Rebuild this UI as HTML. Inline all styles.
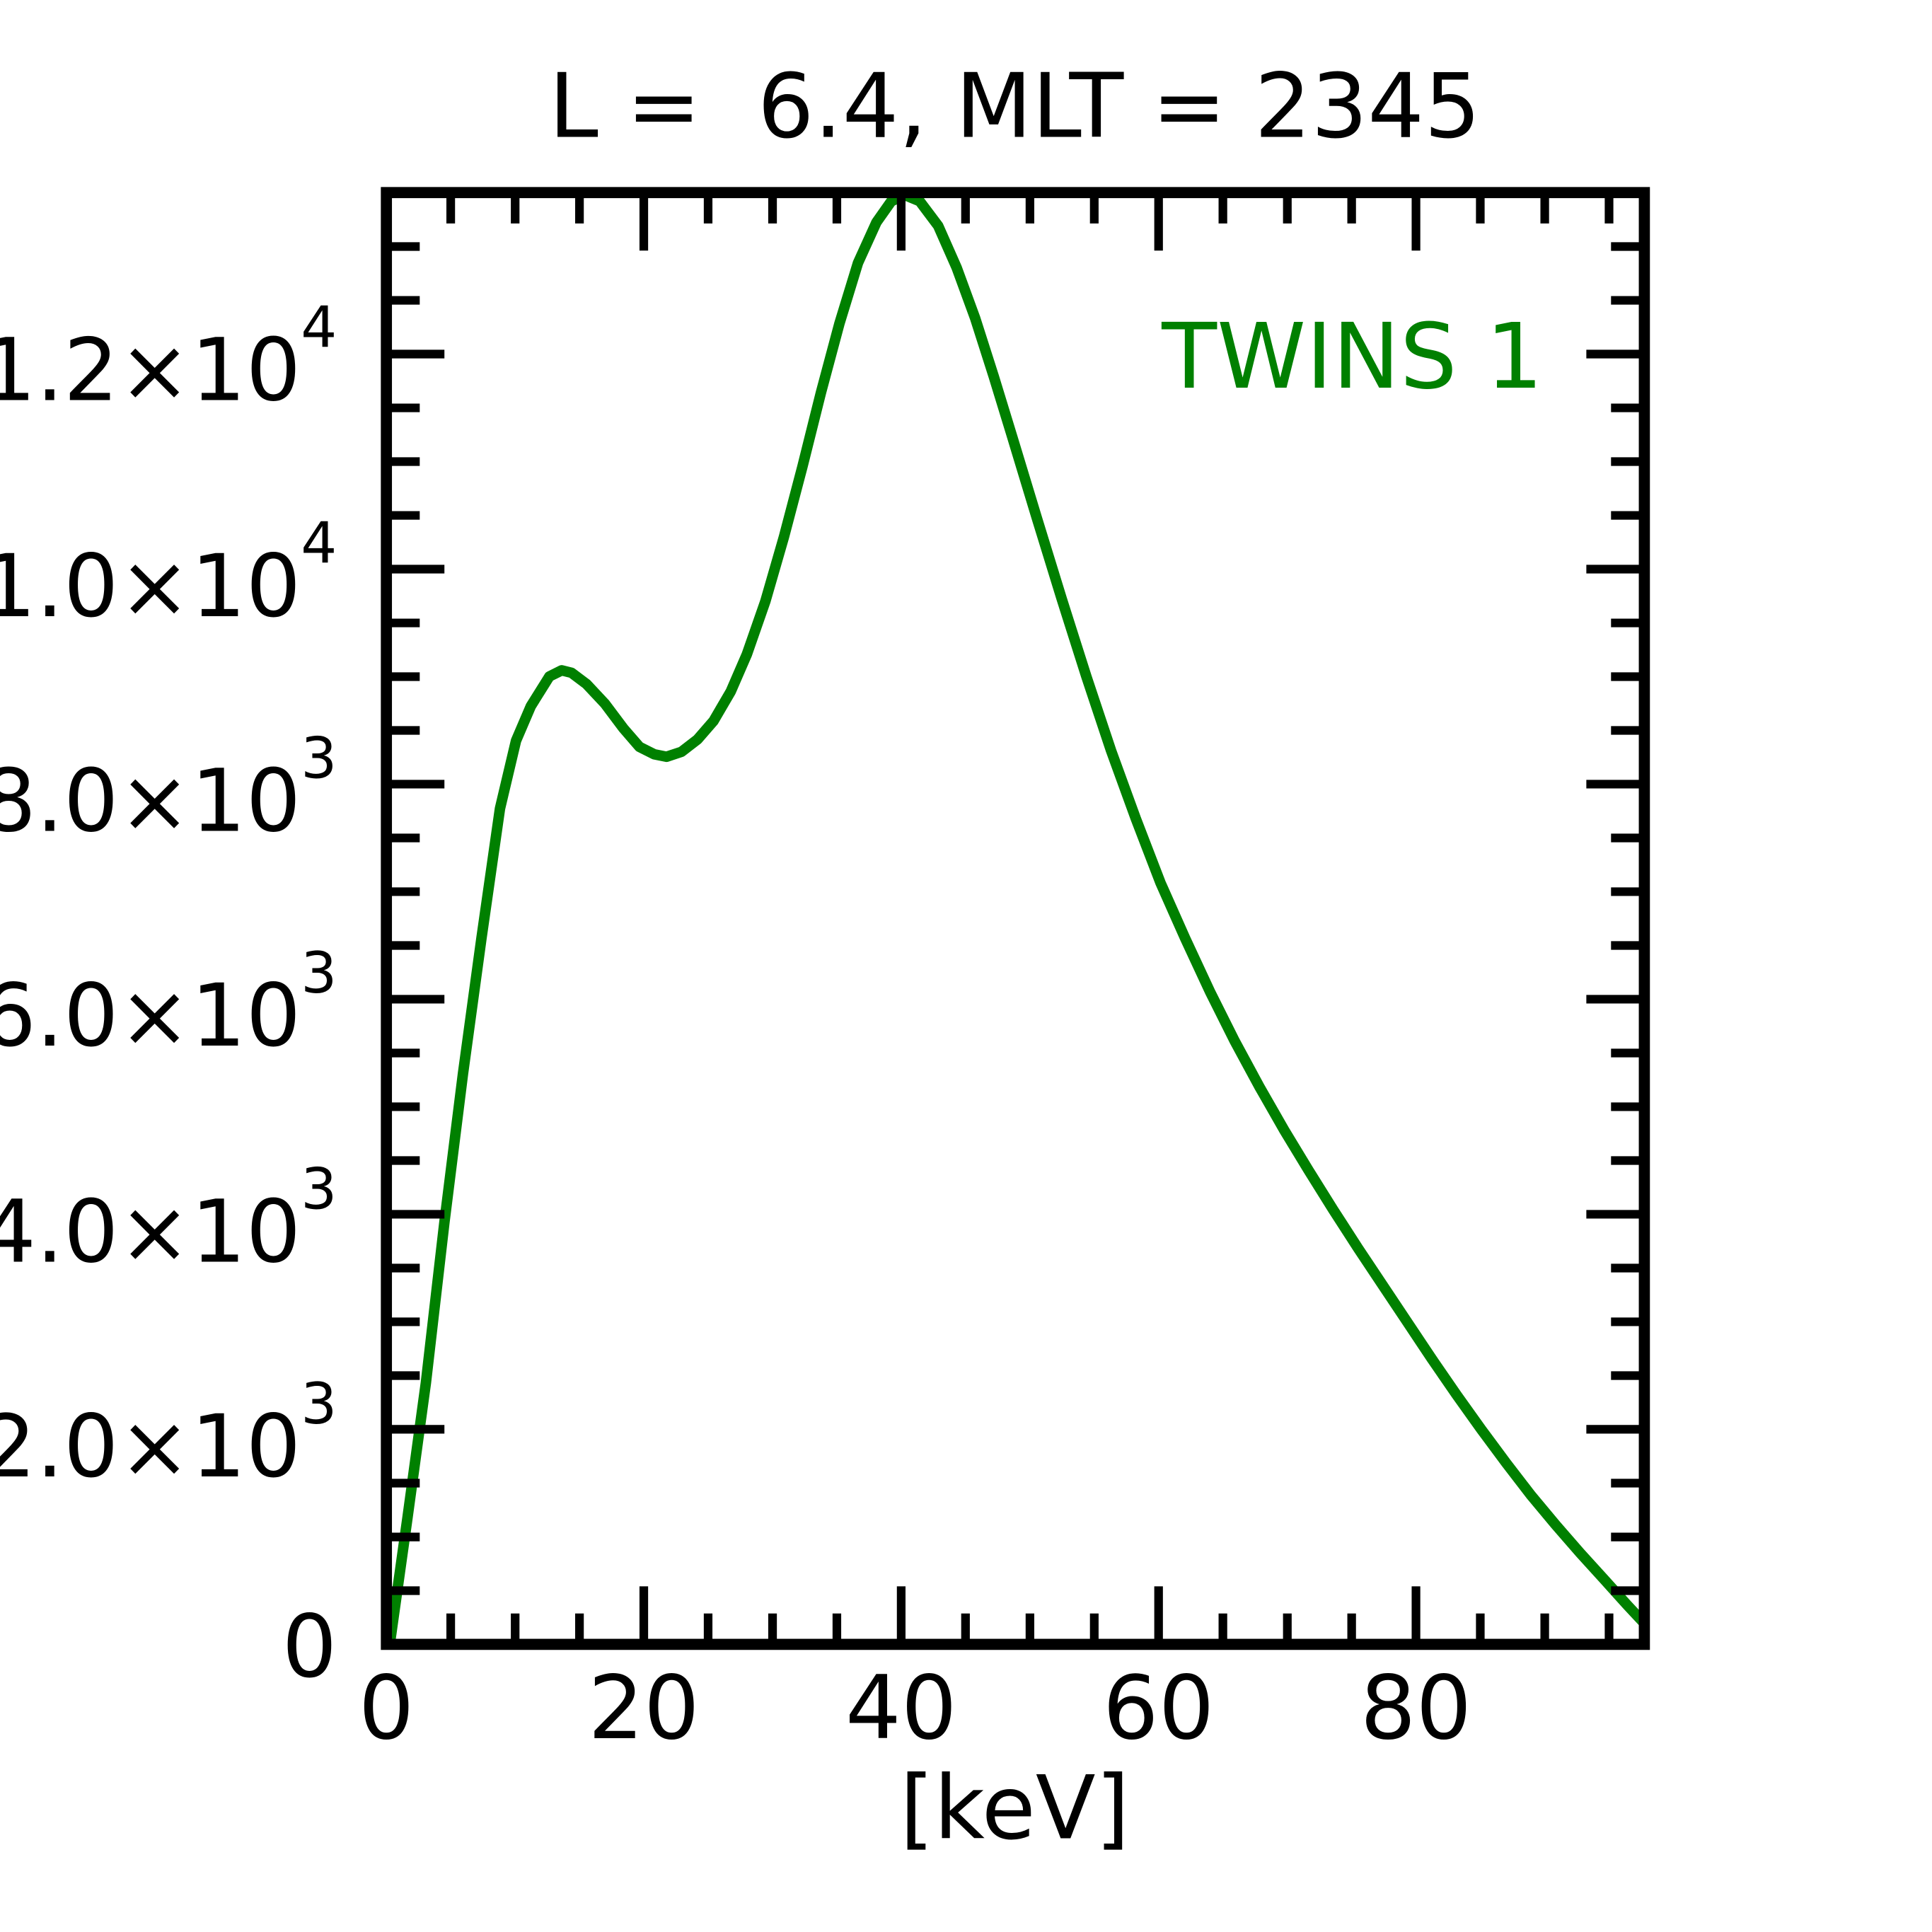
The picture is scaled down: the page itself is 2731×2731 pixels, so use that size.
<!DOCTYPE html>
<html><head><style>html,body{margin:0;padding:0;background:#fff}svg{display:block}</style></head>
<body>
<svg width="2731" height="2731" viewBox="0 0 1565 1565" xmlns="http://www.w3.org/2000/svg" font-family="DejaVu Sans, Liberation Sans, sans-serif">
<rect width="1565" height="1565" fill="#fff"/>
<defs><clipPath id="c"><rect x="313" y="156" width="1019" height="1176"/></clipPath></defs>
<polyline clip-path="url(#c)" fill="none" stroke="#008000" stroke-width="8.5" stroke-linejoin="round" points="316,1330 330,1230 345,1120 360,990 375,870 390,760 405,655 418,600 430,572 445,548 455,543 463,545 475,554 490,570 505,590 518,605 530,611 540,613 552,609 565,599 578,584 592,560 605,530 620,487 635,435 650,378 665,318 680,262 695,213 710,180 722,163 733,158 745,163 760,183 775,217 790,258 805,305 820,354 840,420 860,485 880,548 900,608 920,663 940,715 960,760 980,803 1000,843 1020,880 1040,915 1060,948 1080,980 1100,1011 1120,1041 1140,1071 1160,1101 1180,1130 1200,1158 1220,1185 1240,1211 1260,1235 1280,1258 1300,1280 1318,1300 1332,1315"/>
<g stroke="#000" stroke-width="7">
<path d="M365.1 1332v-25M417.3 1332v-25M469.4 1332v-25M521.5 1332v-47M573.6 1332v-25M625.8 1332v-25M677.9 1332v-25M730 1332v-47M782.1 1332v-25M834.3 1332v-25M886.4 1332v-25M938.5 1332v-47M990.6 1332v-25M1042.8 1332v-25M1094.9 1332v-25M1147 1332v-47M1199.1 1332v-25M1251.3 1332v-25M1303.4 1332v-25"/>
<path d="M365.1 156v25M417.3 156v25M469.4 156v25M521.5 156v47M573.6 156v25M625.8 156v25M677.9 156v25M730 156v47M782.1 156v25M834.3 156v25M886.4 156v25M938.5 156v47M990.6 156v25M1042.8 156v25M1094.9 156v25M1147 156v47M1199.1 156v25M1251.3 156v25M1303.4 156v25"/>
<path d="M313 1288.5h27M313 1245h27M313 1201.4h27M313 1157.8h47M313 1114.3h27M313 1070.7h27M313 1027.2h27M313 983.6h47M313 940.1h27M313 896.5h27M313 853h27M313 809.4h47M313 765.9h27M313 722.3h27M313 678.8h27M313 635.2h47M313 591.7h27M313 548.1h27M313 504.6h27M313 461h47M313 417.5h27M313 373.9h27M313 330.4h27M313 286.8h47M313 243.3h27M313 199.7h27"/>
<path d="M1332 1288.5h-27M1332 1245h-27M1332 1201.4h-27M1332 1157.8h-47M1332 1114.3h-27M1332 1070.7h-27M1332 1027.2h-27M1332 983.6h-47M1332 940.1h-27M1332 896.5h-27M1332 853h-27M1332 809.4h-47M1332 765.9h-27M1332 722.3h-27M1332 678.8h-27M1332 635.2h-47M1332 591.7h-27M1332 548.1h-27M1332 504.6h-27M1332 461h-47M1332 417.5h-27M1332 373.9h-27M1332 330.4h-27M1332 286.8h-47M1332 243.3h-27M1332 199.7h-27"/>
</g>
<rect x="313" y="156" width="1019" height="1176" fill="none" stroke="#000" stroke-width="9"/>
<g font-size="71" fill="#000" text-anchor="middle">
<text x="313" y="1408">0</text><text x="521.5" y="1408">20</text><text x="730" y="1408">40</text><text x="938.5" y="1408">60</text><text x="1147" y="1408">80</text>
<text x="822" y="1489">[keV]</text>
<text x="822" y="111" font-size="72" xml:space="preserve" style="white-space:pre">L =  6.4, MLT = 2345</text>
</g>
<g font-size="70" fill="#000" text-anchor="end">
<text x="273" y="1358">0</text>
<text x="273" y="1196">2.0×10<tspan font-size="46" dy="-43">3</tspan></text>
<text x="273" y="1022">4.0×10<tspan font-size="46" dy="-43">3</tspan></text>
<text x="273" y="847">6.0×10<tspan font-size="46" dy="-43">3</tspan></text>
<text x="273" y="673">8.0×10<tspan font-size="46" dy="-43">3</tspan></text>
<text x="273" y="499">1.0×10<tspan font-size="46" dy="-43">4</tspan></text>
<text x="273" y="324">1.2×10<tspan font-size="46" dy="-43">4</tspan></text>
</g>
<text x="1250" y="314" font-size="73" fill="#008000" text-anchor="end">TWINS 1</text>
</svg>
</body></html>
